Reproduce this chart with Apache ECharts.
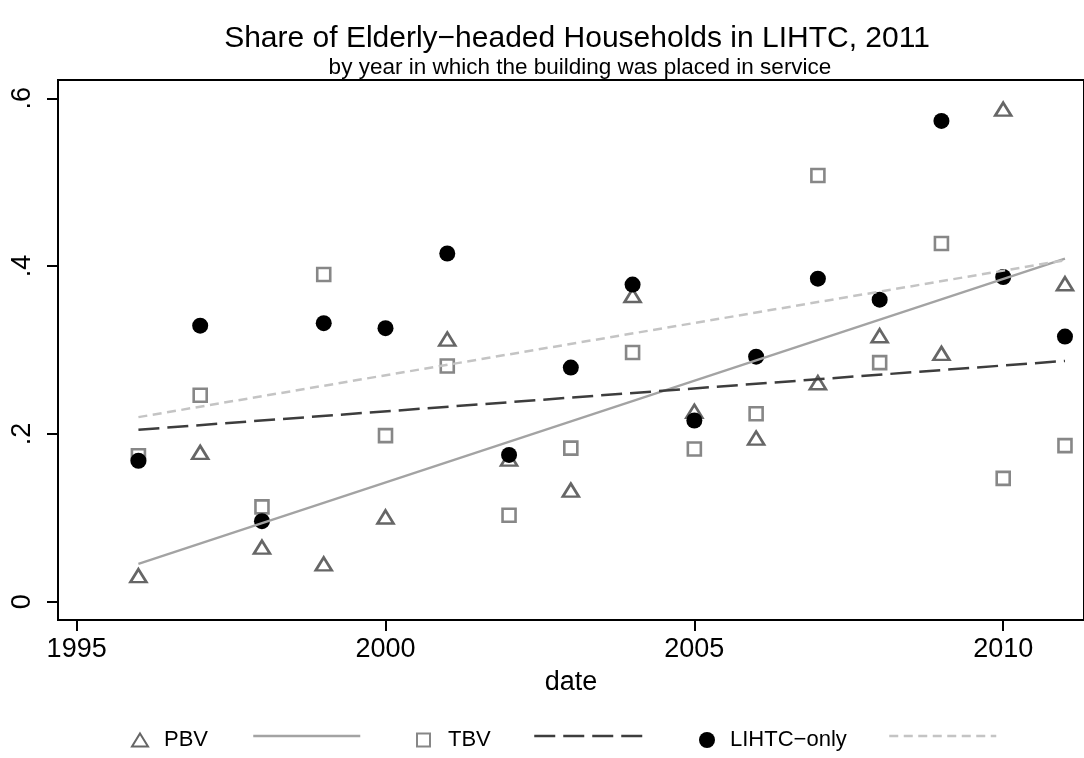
<!DOCTYPE html>
<html>
<head>
<meta charset="utf-8">
<script src="https://cdn.jsdelivr.net/npm/echarts@6/dist/echarts.min.js"></script>
<style>
html,body{margin:0;padding:0;background:#fff;}
#chart{width:1084px;height:758px;}
</style>
</head>
<body>
<div id="chart"></div>
<script>
// ---- data ----
const years = [1996,1997,1998,1999,2000,2001,2002,2003,2004,2005,2006,2007,2008,2009,2010,2011];
const pbv   = [0.031,0.178,0.065,0.045,0.101,0.313,0.170,0.133,0.365,0.227,0.195,0.261,0.317,0.296,0.587,0.379];
const tbv   = [0.174,0.246,0.113,0.390,0.198,0.281,0.103,0.183,0.297,0.182,0.224,0.508,0.285,0.427,0.147,0.186];
const lihtc = [0.168,0.329,0.096,0.332,0.326,0.415,0.175,0.279,0.378,0.216,0.292,0.385,0.360,0.573,0.387,0.316];
// fitted-line end points
const fitYears = [1996, 2011];
const pbvFit   = [0.045, 0.409];
const tbvFit   = [0.205, 0.287];
const lihtcFit = [0.220, 0.407];
// ticks
const xTicks = [1995, 2000, 2005, 2010];
const yTicks = [0, 0.2, 0.4, 0.6];
const yTickLabels = ['0', '.2', '.4', '.6'];
const seriesNames = ['PBV', 'PBV fit', 'TBV', 'TBV fit', 'LIHTC\u2212only', 'LIHTC fit'];

const FONT = 'Liberation Sans, Arial, Helvetica, sans-serif';
const pair = (xs, ys) => xs.map((x, i) => [x, ys[i]]);

const C_TRI = '#666666', C_SQ = '#878787', C_DOT = '#000000';
const C_L1 = '#a3a3a3', C_L2 = '#3d3d3d', C_L3 = '#c4c4c4';
const DASH2 = [21, 8], DASH3 = [9, 5.5];

const chart = echarts.init(document.getElementById('chart'), null, {renderer: 'canvas'});

function legendItem(name, left, opts) {
  return Object.assign({
    show: true, orient: 'horizontal', left: left, top: 729, padding: 0,
    itemGap: 0, selectedMode: false,
    textStyle: {fontFamily: FONT, fontSize: 22, color: '#000'},
    data: [name]
  }, opts);
}

const option = {
  backgroundColor: '#fff',
  animation: false,
  title: [
    {text: 'Share of Elderly\u2212headed Households in LIHTC, 2011', left: 577, top: 24, textAlign: 'center',
     textStyle: {fontFamily: FONT, fontSize: 30, fontWeight: 'normal', color: '#000'}, padding: 0},
    {text: 'by year in which the building was placed in service', left: 580, top: 56, textAlign: 'center',
     textStyle: {fontFamily: FONT, fontSize: 22.5, fontWeight: 'normal', color: '#000'}, padding: 0}
  ],
  grid: {left: 58, top: 80, right: -2, bottom: 138, show: true, borderColor: '#000', borderWidth: 2, backgroundColor: '#fff', containLabel: false},
  xAxis: {
    type: 'value', min: 1994.698, max: 2011.308,
    name: 'date', nameLocation: 'middle', nameGap: 49,
    nameTextStyle: {fontFamily: FONT, fontSize: 27, color: '#000'},
    axisLine: {show: true, onZero: false, lineStyle: {color: '#000', width: 2}},
    axisTick: {show: true, length: 11, lineStyle: {color: '#000', width: 2}, customValues: xTicks},
    axisLabel: {show: true, margin: 16, fontFamily: FONT, fontSize: 27, color: '#000', customValues: xTicks,
                formatter: v => String(v)},
    splitLine: {show: false}
  },
  yAxis: {
    type: 'value', min: -0.0218, max: 0.6218,
    axisLine: {show: true, onZero: false, lineStyle: {color: '#000', width: 2}},
    axisTick: {show: true, length: 11, lineStyle: {color: '#000', width: 2}, customValues: yTicks},
    axisLabel: {show: true, rotate: 90, margin: 22, fontFamily: FONT, fontSize: 27, color: '#000', customValues: yTicks,
                formatter: v => { const i = yTicks.findIndex(t => Math.abs(t - v) < 1e-6); return i >= 0 ? yTickLabels[i] : ''; }},
    splitLine: {show: false}
  },
  legend: [
    legendItem(seriesNames[0], 131, {itemWidth: 16, itemHeight: 13,
      textStyle: {fontFamily: FONT, fontSize: 22, color: '#000', padding: [0,0,0,11]}}),
    legendItem(seriesNames[1], 252, {itemWidth: 107, itemHeight: 14, formatter: () => '',
      data: [{name: seriesNames[1], itemStyle: {color: 'rgba(0,0,0,0)', borderColor: 'rgba(0,0,0,0)', borderWidth: 0},
              lineStyle: {color: C_L1, width: 2.5, type: 'solid'}}]}),
    legendItem(seriesNames[2], 416, {itemWidth: 13, itemHeight: 13,
      textStyle: {fontFamily: FONT, fontSize: 22, color: '#000', padding: [0,0,0,13]}}),
    legendItem(seriesNames[3], 533, {itemWidth: 109, itemHeight: 14, formatter: () => '',
      data: [{name: seriesNames[3], itemStyle: {color: 'rgba(0,0,0,0)', borderColor: 'rgba(0,0,0,0)', borderWidth: 0},
              lineStyle: {color: C_L2, width: 2.5, type: DASH2}}]}),
    legendItem(seriesNames[4], 699, {itemWidth: 16, itemHeight: 16,
      textStyle: {fontFamily: FONT, fontSize: 22, color: '#000', padding: [0,0,0,10]}}),
    legendItem(seriesNames[5], 888, {itemWidth: 107, itemHeight: 14, formatter: () => '',
      data: [{name: seriesNames[5], itemStyle: {color: 'rgba(0,0,0,0)', borderColor: 'rgba(0,0,0,0)', borderWidth: 0},
              lineStyle: {color: C_L3, width: 2.5, type: DASH3}}]})
  ],
  series: [
    {name: seriesNames[0], type: 'scatter', data: pair(years, pbv), symbol: 'triangle', symbolSize: [16, 13],
     itemStyle: {color: '#fff', borderColor: C_TRI, borderWidth: 2.6, opacity: 1}},
    {name: seriesNames[1], type: 'line', data: pair(fitYears, pbvFit), symbol: 'none', showSymbol: false,
     lineStyle: {color: C_L1, width: 2.3, type: 'solid'}, itemStyle: {color: C_L1}},
    {name: seriesNames[2], type: 'scatter', data: pair(years, tbv), symbol: 'rect', symbolSize: 13,
     itemStyle: {color: '#fff', borderColor: C_SQ, borderWidth: 2.6, opacity: 1}},
    {name: seriesNames[3], type: 'line', data: pair(fitYears, tbvFit), symbol: 'none', showSymbol: false,
     lineStyle: {color: C_L2, width: 2.5, type: DASH2}, itemStyle: {color: C_L2}},
    {name: seriesNames[4], type: 'scatter', data: pair(years, lihtc), symbol: 'circle', symbolSize: 16,
     itemStyle: {color: C_DOT, opacity: 1}},
    {name: seriesNames[5], type: 'line', data: pair(fitYears, lihtcFit), symbol: 'none', showSymbol: false,
     lineStyle: {color: C_L3, width: 2.5, type: DASH3}, itemStyle: {color: C_L3}}
  ]
};
chart.setOption(option);
</script>
</body>
</html>
